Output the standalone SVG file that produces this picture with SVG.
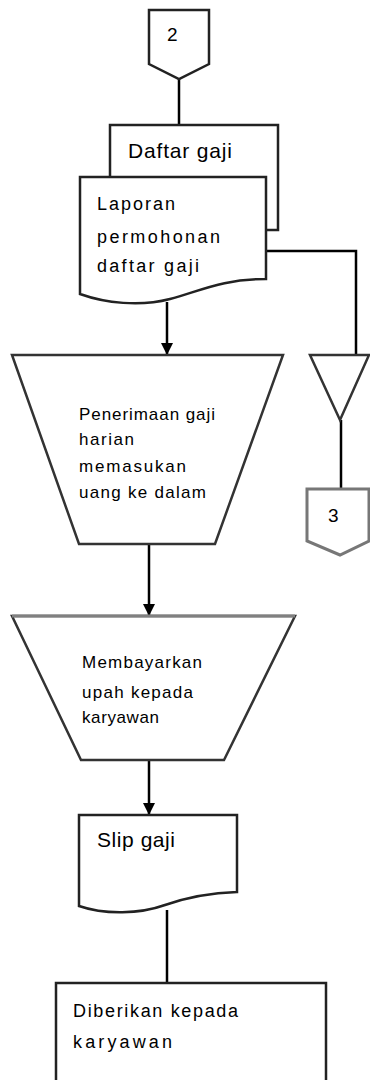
<svg xmlns="http://www.w3.org/2000/svg" width="370" height="1080" viewBox="0 0 370 1080">
  <style>
    .shape { fill: #fff; stroke: #222; stroke-width: 2.5; stroke-linejoin: miter; }
    .soft { stroke: #333; }
    .grey { fill: none; stroke: #808080; stroke-width: 3; }
    .wire { fill: none; stroke: #000; stroke-width: 2.5; }
    text { font-family: "Liberation Sans", Arial, sans-serif; fill: #000; }
    .t17 { font-size: 17px; }
    .t18 { font-size: 18px; }
    .t19 { font-size: 19px; }
    .t21 { font-size: 21px; }
  </style>
  <defs>
    <marker id="arrow" viewBox="0 0 10 10" refX="10" refY="5" markerWidth="12" markerHeight="12" markerUnits="userSpaceOnUse" orient="auto">
      <path d="M0,0 L10,5 L0,10 Z" fill="#000"/>
    </marker>
  </defs>

  <rect width="370" height="1080" fill="#fff"/>

  <!-- connectors -->
  <g id="connectors">
    <line class="wire" x1="179" y1="79" x2="179" y2="125"/>
    <polyline class="wire" points="266,251 356,251 356,355"/>
    <line class="wire" x1="167" y1="302" x2="167" y2="355" marker-end="url(#arrow)"/>
    <line class="wire" x1="341" y1="420" x2="341" y2="489"/>
    <line class="wire" x1="149" y1="544" x2="149" y2="616" marker-end="url(#arrow)"/>
    <line class="wire" x1="149" y1="760" x2="149" y2="815" marker-end="url(#arrow)"/>
    <line class="wire" x1="167" y1="910" x2="167" y2="983"/>
  </g>

  <!-- off-page connector 2 -->
  <g id="offpage-2">
    <polygon class="shape" points="149,10 209,10 209,64 179,79 149,64"/>
    <text class="t19" x="167" y="41">2</text>
  </g>

  <!-- stacked documents -->
  <g id="doc-daftar-gaji">
    <path class="shape" d="M110,125 H278 V230 H250 L110,240 Z"/>
    <text class="t21" x="128" y="158" textLength="104" lengthAdjust="spacing">Daftar gaji</text>
  </g>
  <g id="doc-laporan">
    <path class="shape" d="M80,177 H266 V279 C222,279 200,291 170,299 C140,307 105,303 80,294 Z"/>
    <text class="t18" x="97" y="210" textLength="78" lengthAdjust="spacing">Laporan</text>
    <text class="t18" x="97" y="243" textLength="123" lengthAdjust="spacing">permohonan</text>
    <text class="t18" x="97" y="272" textLength="102" lengthAdjust="spacing">daftar gaji</text>
  </g>

  <!-- manual operation: receiving wages -->
  <g id="manual-penerimaan">
    <polygon class="shape soft" points="12,355 283,355 215,544 79,544"/>
    <text class="t17" x="79" y="420" textLength="136" lengthAdjust="spacing">Penerimaan gaji</text>
    <text class="t17" x="79" y="445" textLength="55" lengthAdjust="spacing">harian</text>
    <text class="t17" x="79" y="472" textLength="107" lengthAdjust="spacing">memasukan</text>
    <text class="t17" x="79" y="498" textLength="127" lengthAdjust="spacing">uang ke dalam</text>
  </g>

  <!-- offline storage -->
  <g id="storage">
    <polygon class="shape soft" points="310,355 369,355 340,420"/>
  </g>

  <!-- off-page connector 3 -->
  <g id="offpage-3">
    <polygon class="shape" style="stroke:#777;stroke-width:3" points="307,489 369,489 369,541 340,555 307,541"/>
    <text class="t19" x="328" y="522">3</text>
  </g>

  <!-- manual operation: paying wages -->
  <g id="manual-membayarkan">
    <polygon class="shape soft" points="12,616 295,616 224,760 81,760"/>
    <line class="grey" x1="12" y1="616" x2="295" y2="616"/>
    <text class="t17" x="82" y="668" textLength="120" lengthAdjust="spacing">Membayarkan</text>
    <text class="t17" x="82" y="698" textLength="111" lengthAdjust="spacing">upah kepada</text>
    <text class="t17" x="82" y="723" textLength="77" lengthAdjust="spacing">karyawan</text>
  </g>

  <!-- document: payslip -->
  <g id="doc-slip-gaji">
    <path class="shape" d="M79,815 H237 V892 C205,893 185,898 165,905 C140,914 105,915 79,906 Z"/>
    <text class="t21" x="97" y="847" textLength="78" lengthAdjust="spacing">Slip gaji</text>
  </g>

  <!-- process: handed to employees -->
  <g id="process-diberikan">
    <rect class="shape" x="56" y="983" width="270" height="120"/>
    <text class="t18" x="73" y="1017" textLength="165" lengthAdjust="spacing">Diberikan kepada</text>
    <text class="t18" x="73" y="1048" textLength="99" lengthAdjust="spacing">karyawan</text>
  </g>
</svg>
